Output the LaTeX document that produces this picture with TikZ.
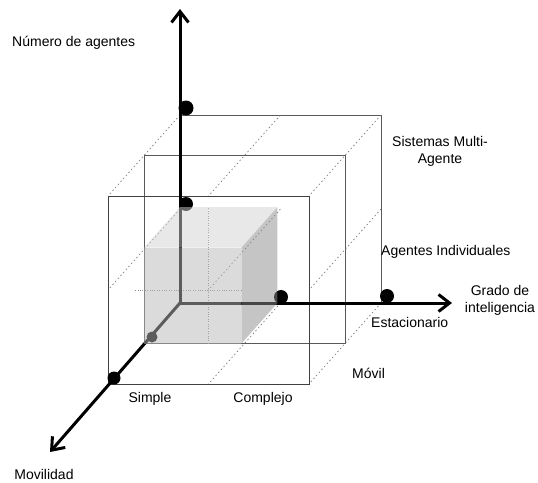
\documentclass[tikz,border=0pt]{standalone}
\usepackage{fontspec}
\setmainfont{Liberation Sans}
\usetikzlibrary{arrows.meta}
\begin{document}
\begin{tikzpicture}[x=1pt,y=-1pt,
  lbl/.style={inner sep=0pt, font=\fontsize{14}{17}\selectfont},
  frame/.style={draw=black!65, line width=0.7pt},
  depth/.style={draw=black!55, line width=0.6pt, dash pattern=on 1.6pt off 2.4pt},
  faint/.style={draw=black!45, line width=0.5pt, dash pattern=on 0.8pt off 1.6pt},
  axis/.style={line width=3pt, -{Straight Barb[length=11pt,width=17pt]}},
  knot/.style={fill=black},
  front/.style={fill=black!28, fill opacity=0.5},
  topface/.style={fill=black!18, fill opacity=0.5},
  side/.style={fill=black!45, fill opacity=0.5}]
\path[use as bounding box] (0,0) rectangle (538,482);

% axis end points
\coordinate (O) at (180,303);
\coordinate (ytip) at (180,9);
\coordinate (xtip) at (452,303);
\coordinate (ztip) at (50,452);

% 3D grid: x = intelligence, y = number of agents, z = mobility
\begin{scope}[shift={(180,303)}, x={(100.5pt,0pt)}, y={(0pt,94pt)}, z={(-36pt,-40.5pt)}]
  % back plane (z = 0)
  \draw[frame] (0,2,0) -- (2,2,0) -- (2,0,0);
  % middle plane (z = 1)
  \draw[frame] (0,0,1) -- (2,0,1) -- (2,2,1) -- (0,2,1) -- cycle;
  % front plane (z = 2)
  \draw[frame, draw=black!75] (0,0,2) -- (2,0,2) -- (2,2,2) -- (0,2,2) -- cycle;
  % depth lines
  \foreach \a/\b in {0/2, 1/2, 2/2, 2/1, 2/0, 0/1, 1/0, 1/1}
    \draw[depth] (\a,\b,0) -- (\a,\b,2);
  % faint guides inside the cube
  \draw[faint] (1,0.43,2) -- (1,1.88,2);
  \draw[faint] (0.27,1,2) -- (1.33,1,2);
  % cube corners used for the shaded block
  \coordinate (c000) at (0,0,0);
  \coordinate (c100) at (0.97,0,0);
  \coordinate (c110) at (0.97,1.02,0);
  \coordinate (c010) at (0,1.02,0);
  \coordinate (c001) at (0,0,1);
  \coordinate (c101) at (0.97,0,1);
  \coordinate (c111) at (0.97,1.02,1);
  \coordinate (c011) at (0,1.02,1);
\end{scope}

% axes
\draw[axis] (O) -- (ytip);
\draw[axis] (O) -- (xtip);
\draw[axis] (O) -- (ztip);

% level markers
\fill[knot] (186,108) circle (7.5);
\fill[knot] (186,204) circle (7);
\fill[knot] (281,297) circle (7);
\fill[knot] (387,296) circle (7);
\fill[knot] (114,378) circle (6.5);
\fill[knot] (152,337) circle (5.5);

% shaded block
\fill[front] (c001) -- (c101) -- (c111) -- (c011) -- cycle;
\fill[topface] (c010) -- (c110) -- (c111) -- (c011) -- cycle;
\fill[side] (c100) -- (c110) -- (c111) -- (c101) -- cycle;

% labels
\node[lbl, anchor=west] (nag) at (12,43) {Número de agentes};
\node[lbl, align=center] (sma) at (440,151) {Sistemas Multi-\\Agente};
\node[lbl, anchor=west] (ind) at (381,252) {Agentes Individuales};
\node[lbl, align=center] (gra) at (500,300) {Grado de\\inteligencia};
\node[lbl, anchor=west] (est) at (371,322) {Estacionario};
\node[lbl, anchor=west] (mvl) at (352,373) {Móvil};
\node[lbl] (sim) at (150,399) {Simple};
\node[lbl] (com) at (263,399) {Complejo};
\node[lbl] (mov) at (44,474) {Movilidad};
\end{tikzpicture}
\end{document}
